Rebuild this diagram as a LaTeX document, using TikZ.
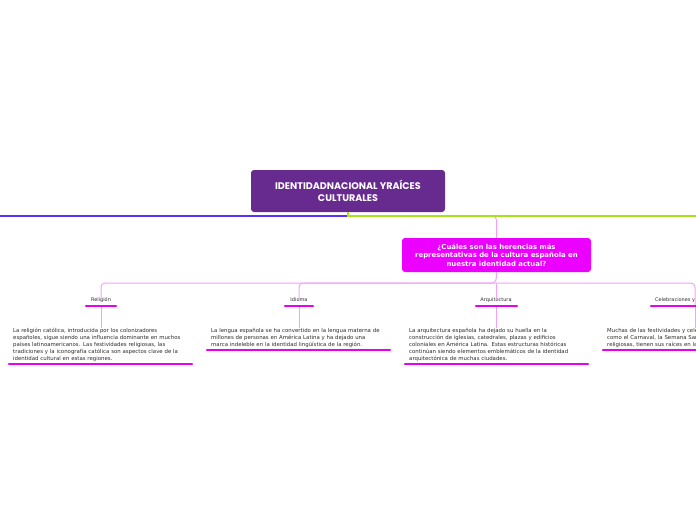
\documentclass[tikz,border=0pt]{standalone}
\usepackage{fontspec}
\setmainfont{DejaVu Sans}
\newfontfamily\titlefont{Poppins}
\usetikzlibrary{positioning}
\definecolor{mainpurple}{RGB}{103,43,143}
\definecolor{qmagenta}{RGB}{236,0,255}
\definecolor{ulmagenta}{RGB}{232,0,240}
\definecolor{lpink}{RGB}{246,160,250}
\definecolor{lblue}{RGB}{85,51,255}
\definecolor{lgreen}{RGB}{168,226,26}
\definecolor{bodygray}{RGB}{45,45,45}
\tikzset{
  mainbox/.style={fill=mainpurple,rounded corners=3pt,minimum width=194pt,minimum height=42pt,text=white,align=center,inner sep=0pt,font=\titlefont\bfseries\fontsize{9.6}{12.5}\selectfont},
  qbox/.style={fill=qmagenta,rounded corners=3pt,minimum width=189pt,minimum height=34pt,text=white,align=center,inner sep=0pt,font=\fontsize{6.9}{8.5}\selectfont\bfseries},
  toplabel/.style={font=\fontsize{5}{6}\selectfont,text=bodygray,inner sep=0pt,anchor=base},
  para/.style={font=\fontsize{5.4}{7}\selectfont,text=bodygray,align=left,inner sep=0pt,anchor=north west,text width=200pt},
  ul/.style={draw=ulmagenta,line width=2.4pt,line cap=round},
  conn/.style={draw=lpink,line width=1pt,rounded corners=4pt},
}
\begin{document}
\begin{tikzpicture}[x=1pt,y=-1pt]
\useasboundingbox (0,0) rectangle (696,520);
\clip (0,0) rectangle (696,520);
\fill[white] (0,0) rectangle (696,520);
% central
\node[mainbox] (main) at (348,191) {IDENTIDADNACIONAL YRAÍCES\\CULTURALES};
\coordinate (hub) at (348,216);
\coordinate (leftend) at (-2,216);
\coordinate (rightend) at (700,216);
% question
\node[qbox] (q) at (496.5,255) {¿Cuáles son las herencias más\\representativas de la cultura española en\\nuestra identidad actual?};
\draw[conn] (hub) -| (q.north);
\draw[lblue,line width=1.2pt] (hub) -- (leftend);
\draw[lgreen,line width=1.2pt] (main.south) -- (hub) -- (rightend);
% sub topics
\node[toplabel] (relig) at (101,301) {Religión};
\node[toplabel] (idioma) at (299,301) {Idioma};
\node[toplabel] (arq) at (496,301) {Arquitectura};
\node[toplabel,anchor=base west] (celeb) at (655,301) {Celebraciones y festividades};
\coordinate (hubq) at (496,283);
\coordinate (celebx) at (695,306);
\draw[conn] (q.south) -- (hubq) -| ([yshift=-3pt]relig.north);
\draw[conn] (hubq) -| ([yshift=-3pt]idioma.north);
\draw[conn] (hubq) -- ([yshift=-3pt]arq.north);
\draw[conn] (hubq) -| (celebx);
% underlines
\coordinate (r1) at (86,306); \coordinate (r2) at (116,306);
\coordinate (i1) at (285,306); \coordinate (i2) at (313,306);
\coordinate (a1) at (476,306); \coordinate (a2) at (517,306);
\coordinate (c1) at (651,306); \coordinate (c2) at (700,306);
% paragraphs
\node[para] (prelig) at (13,328) {La religión católica, introducida por los colonizadores\\españoles, sigue siendo una influencia dominante en muchos\\países latinoamericanos. Las festividades religiosas, las\\tradiciones y la iconografía católica son aspectos clave de la\\identidad cultural en estas regiones.};
\node[para] (pidioma) at (211,328) {La lengua española se ha convertido en la lengua materna de\\millones de personas en América Latina y ha dejado una\\marca indeleble en la identidad lingüística de la región.};
\node[para] (parq) at (409,328) {La arquitectura española ha dejado su huella en la\\construcción de iglesias, catedrales, plazas y edificios\\coloniales en América Latina. Estas estructuras históricas\\continúan siendo elementos emblemáticos de la identidad\\arquitectónica de muchas ciudades.};
\node[para] (pceleb) at (607,328) {Muchas de las festividades y celebraciones populares,\\como el Carnaval, la Semana Santa y las fiestas\\religiosas, tienen sus raíces en la tradición española.};
% connectors label -> paragraph
\draw[conn] (101,306) -- (prelig.north -| 101,0);
\draw[conn] (299,306) -- (pidioma.north -| 299,0);
\draw[conn] (496,306) -- (parq.north -| 496,0);
\draw[conn] (695,306) -- (pceleb.north -| 695,0);
\draw[ul] (r1) -- (r2);
\draw[ul] (i1) -- (i2);
\draw[ul] (a1) -- (a2);
\draw[ul] (c1) -- (c2);
% paragraph underlines
\coordinate (pr1) at (9,364); \coordinate (pr2) at (192,364);
\coordinate (pi1) at (207,350); \coordinate (pi2) at (390,350);
\coordinate (pa1) at (405,364); \coordinate (pa2) at (588,364);
\coordinate (pc1) at (603,350); \coordinate (pc2) at (700,350);
\draw[ul] (pr1) -- (pr2);
\draw[ul] (pi1) -- (pi2);
\draw[ul] (pa1) -- (pa2);
\draw[ul] (pc1) -- (pc2);
\end{tikzpicture}
\end{document}
